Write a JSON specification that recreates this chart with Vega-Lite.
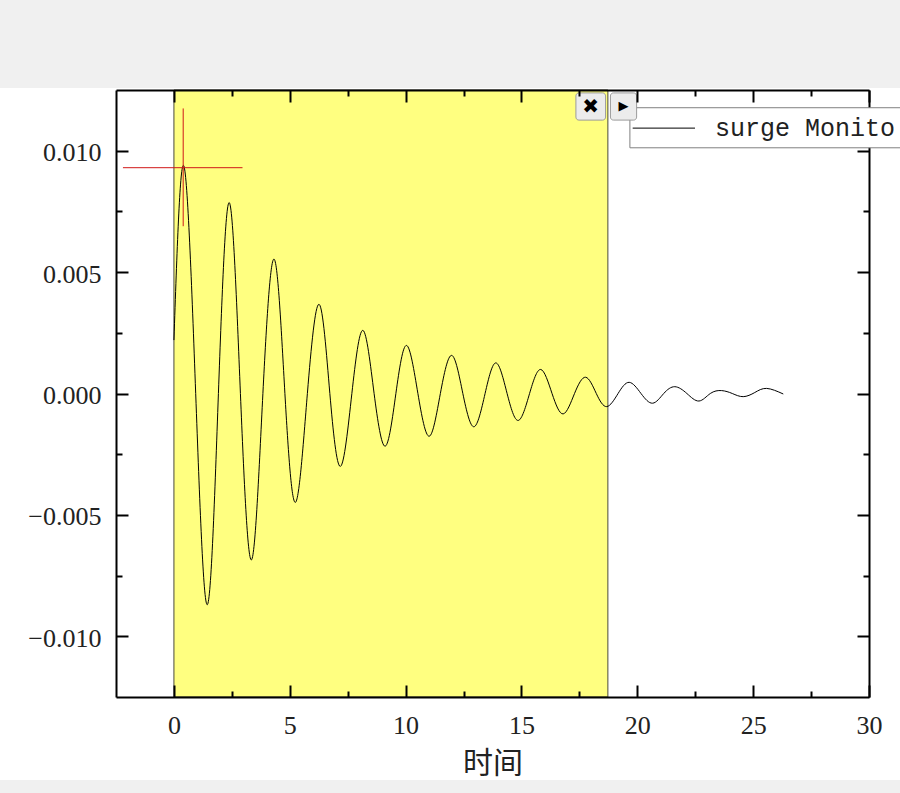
{
  "$schema": "https://vega.github.io/schema/vega-lite/v6.json",
  "width": 753,
  "height": 607,
  "autosize": {"type": "none"},
  "padding": {"left": 116, "top": 90, "right": 31, "bottom": 96},
  "background": "white",
  "config": {"view": {"stroke": null}, "axis": {"grid": false, "labelFlush": false, "labelOverlap": false}},
  "resolve": {"axis": {"x": "independent", "y": "independent"}},
  "layer": [
    {
      "data": {"values": [{}]},
      "mark": {"type": "rect", "fill": "#f0f0f0", "clip": false},
      "encoding": {
        "x": {"datum": -7.6, "type": "quantitative", "scale": {"domain": [-2.5, 30], "nice": false, "zero": false},
          "axis": {"orient": "bottom", "values": [0, 5, 10, 15, 20, 25, 30], "format": "d", "ticks": false, "domain": true, "domainColor": "black", "domainWidth": 2, "labelFont": "Liberation Serif", "labelFontSize": 26, "labelColor": "#222", "labelPadding": 15, "title": "时间", "titleFont": "Noto Sans CJK SC", "titleFontSize": 30, "titleFontWeight": "normal", "titleColor": "#222", "titlePadding": 10, "zindex": 1}},
        "x2": {"datum": 31.4},
        "y": {"datum": 0.0163, "type": "quantitative", "scale": {"domain": [-0.0125, 0.0125], "nice": false, "zero": false},
          "axis": {"orient": "left", "values": [-0.01, -0.005, 0, 0.005, 0.01], "format": ".3f", "ticks": false, "domain": true, "domainColor": "black", "domainWidth": 2, "labelFont": "Liberation Serif", "labelFontSize": 26, "labelColor": "#222", "labelPadding": 15, "labelOffset": 2, "title": null, "zindex": 1}},
        "y2": {"datum": 0.012582}
      }
    },
    {
      "data": {"values": [{}]},
      "mark": {"type": "rect", "fill": "#f0f0f0", "clip": false},
      "encoding": {
        "x": {"datum": -7.6, "type": "quantitative",
          "axis": {"orient": "bottom", "values": [0, 5, 10, 15, 20, 25, 30], "labels": false, "domain": false, "ticks": true, "tickSize": -12, "tickWidth": 2, "tickColor": "black", "title": null, "zindex": 1}},
        "x2": {"datum": 31.4},
        "y": {"datum": -0.015918, "type": "quantitative",
          "axis": {"orient": "left", "values": [-0.01, -0.005, 0, 0.005, 0.01], "labels": false, "domain": false, "ticks": true, "tickSize": -12, "tickWidth": 2, "tickColor": "black", "title": null, "zindex": 1}},
        "y2": {"datum": -0.0166}
      }
    },
    {
      "data": {"values": [{}]},
      "mark": {"type": "rect", "fill": "#ffff80", "stroke": "#4a4a3a", "strokeWidth": 1},
      "encoding": {
        "x": {"datum": 0, "type": "quantitative",
          "axis": {"orient": "bottom", "values": [2.5, 7.5, 12.5, 17.5, 22.5, 27.5], "labels": false, "domain": false, "ticks": true, "tickSize": -6, "tickWidth": 2, "tickColor": "black", "title": null, "zindex": 1}},
        "x2": {"datum": 18.73},
        "y": {"datum": -0.0125, "type": "quantitative",
          "axis": {"orient": "left", "values": [-0.0075, -0.0025, 0.0025, 0.0075], "labels": false, "domain": false, "ticks": true, "tickSize": -6, "tickWidth": 2, "tickColor": "black", "title": null, "zindex": 1}},
        "y2": {"datum": 0.0125}
      }
    },
    {
      "data": {"values": [
        {"t": 0, "v": 0.0022}, {"t": 0.43, "v": 0.00937}, {"t": 0.94, "v": 0}, {"t": 1.44, "v": -0.0087},
        {"t": 1.92, "v": 0}, {"t": 2.39, "v": 0.00786}, {"t": 2.87, "v": 0}, {"t": 3.35, "v": -0.00685},
        {"t": 3.84, "v": 0}, {"t": 4.33, "v": 0.00553}, {"t": 4.79, "v": 0}, {"t": 5.25, "v": -0.00448},
        {"t": 5.76, "v": 0}, {"t": 6.27, "v": 0.00367}, {"t": 6.73, "v": 0}, {"t": 7.19, "v": -0.003},
        {"t": 7.68, "v": 0}, {"t": 8.16, "v": 0.0026}, {"t": 8.64, "v": 0}, {"t": 9.12, "v": -0.00217},
        {"t": 9.58, "v": 0}, {"t": 10.04, "v": 0.00198}, {"t": 10.53, "v": 0}, {"t": 11.02, "v": -0.00176},
        {"t": 11.5, "v": 0}, {"t": 11.99, "v": 0.00157}, {"t": 12.47, "v": 0}, {"t": 12.95, "v": -0.00137},
        {"t": 13.43, "v": 0}, {"t": 13.9, "v": 0.00126}, {"t": 14.38, "v": 0}, {"t": 14.86, "v": -0.00111},
        {"t": 15.35, "v": 0}, {"t": 15.83, "v": 0.00099}, {"t": 16.32, "v": 0}, {"t": 16.8, "v": -0.00084},
        {"t": 17.29, "v": 0}, {"t": 17.77, "v": 0.00067}, {"t": 18.23, "v": 0}, {"t": 18.68, "v": -0.00054},
        {"t": 19.17, "v": 0}, {"t": 19.65, "v": 0.00046}, {"t": 20.16, "v": 0}, {"t": 20.66, "v": -0.0004},
        {"t": 21.14, "v": 0}, {"t": 21.62, "v": 0.00028}, {"t": 22.14, "v": 0}, {"t": 22.66, "v": -0.00031},
        {"t": 23.15, "v": 0}, {"t": 23.64, "v": 0.00012}, {"t": 24.1, "v": 0}, {"t": 24.57, "v": -0.00013},
        {"t": 25.07, "v": 0.00004}, {"t": 25.58, "v": 0.00021}, {"t": 26.3, "v": -0.00002}
      ]},
      "mark": {"type": "line", "interpolate": "natural", "color": "black", "strokeWidth": 1},
      "encoding": {
        "x": {"field": "t", "type": "quantitative",
          "axis": {"orient": "top", "values": [0, 5, 10, 15, 20, 25, 30], "labels": false, "domain": true, "domainColor": "black", "domainWidth": 2, "ticks": true, "tickSize": -12, "tickWidth": 2, "tickColor": "black", "title": null, "zindex": 1}},
        "y": {"field": "v", "type": "quantitative",
          "axis": {"orient": "right", "values": [-0.01, -0.005, 0, 0.005, 0.01], "labels": false, "domain": true, "domainColor": "black", "domainWidth": 2, "ticks": true, "tickSize": -12, "tickWidth": 2, "tickColor": "black", "title": null, "zindex": 0}}
      }
    },
    {
      "data": {"values": [{}]},
      "mark": {"type": "rule", "color": "#d01818", "strokeWidth": 1},
      "encoding": {
        "x": {"datum": -2.2, "type": "quantitative",
          "axis": {"orient": "top", "values": [2.5, 7.5, 12.5, 17.5, 22.5, 27.5], "labels": false, "domain": false, "ticks": true, "tickSize": -6, "tickWidth": 2, "tickColor": "black", "title": null, "zindex": 1}},
        "x2": {"datum": 2.96},
        "y": {"datum": 0.0093, "type": "quantitative",
          "axis": {"orient": "right", "values": [-0.0075, -0.0025, 0.0025, 0.0075], "labels": false, "domain": false, "ticks": true, "tickSize": -6, "tickWidth": 2, "tickColor": "black", "title": null, "zindex": 0}}
      }
    },
    {
      "data": {"values": [{}]},
      "mark": {"type": "rule", "color": "#d01818", "strokeWidth": 1},
      "encoding": {
        "x": {"datum": 0.4, "type": "quantitative", "axis": null},
        "y": {"datum": 0.01174, "type": "quantitative", "axis": null},
        "y2": {"datum": 0.00689}
      }
    },
    {
      "data": {"values": [{}]},
      "mark": {"type": "rect", "fill": "white", "stroke": "#808080", "strokeWidth": 1, "clip": false},
      "encoding": {
        "x": {"datum": 19.68, "type": "quantitative", "axis": null},
        "x2": {"datum": 35},
        "y": {"datum": 0.01177, "type": "quantitative", "axis": null},
        "y2": {"datum": 0.01012}
      }
    },
    {
      "data": {"values": [{}]},
      "mark": {"type": "rule", "color": "black", "strokeWidth": 1, "clip": false},
      "encoding": {
        "x": {"datum": 19.8, "type": "quantitative", "axis": null},
        "x2": {"datum": 22.49},
        "y": {"datum": 0.01093, "type": "quantitative", "axis": null}
      }
    },
    {
      "data": {"values": [{"label": "surge Monito"}]},
      "mark": {"type": "text", "align": "left", "baseline": "middle", "font": "Liberation Mono", "fontSize": 25, "color": "#222", "clip": false},
      "encoding": {
        "x": {"datum": 23.35, "type": "quantitative", "axis": null},
        "y": {"datum": 0.01093, "type": "quantitative", "axis": null},
        "text": {"field": "label"}
      }
    },
    {
      "data": {"values": [{}]},
      "mark": {"type": "rect", "fill": "#ececec", "stroke": "#9a9a9a", "strokeWidth": 1, "cornerRadius": 3, "clip": false},
      "encoding": {
        "x": {"datum": 17.35, "type": "quantitative", "axis": null},
        "x2": {"datum": 18.63},
        "y": {"datum": 0.01238, "type": "quantitative", "axis": null},
        "y2": {"datum": 0.01126}
      }
    },
    {
      "data": {"values": [{}]},
      "mark": {"type": "rect", "fill": "#ececec", "stroke": "#9a9a9a", "strokeWidth": 1, "cornerRadius": 3, "clip": false},
      "encoding": {
        "x": {"datum": 18.84, "type": "quantitative", "axis": null},
        "x2": {"datum": 19.97},
        "y": {"datum": 0.01238, "type": "quantitative", "axis": null},
        "y2": {"datum": 0.01126}
      }
    },
    {
      "data": {"values": [{"label": "✖"}]},
      "mark": {"type": "text", "align": "center", "baseline": "middle", "font": "DejaVu Sans", "fontSize": 20, "color": "black", "clip": false},
      "encoding": {
        "x": {"datum": 17.99, "type": "quantitative", "axis": null},
        "y": {"datum": 0.01182, "type": "quantitative", "axis": null},
        "text": {"field": "label"}
      }
    },
    {
      "data": {"values": [{"label": "▶"}]},
      "mark": {"type": "text", "align": "center", "baseline": "middle", "font": "DejaVu Sans", "fontSize": 13, "color": "black", "clip": false},
      "encoding": {
        "x": {"datum": 19.4, "type": "quantitative", "axis": null},
        "y": {"datum": 0.01185, "type": "quantitative", "axis": null},
        "text": {"field": "label"}
      }
    }
  ]
}
